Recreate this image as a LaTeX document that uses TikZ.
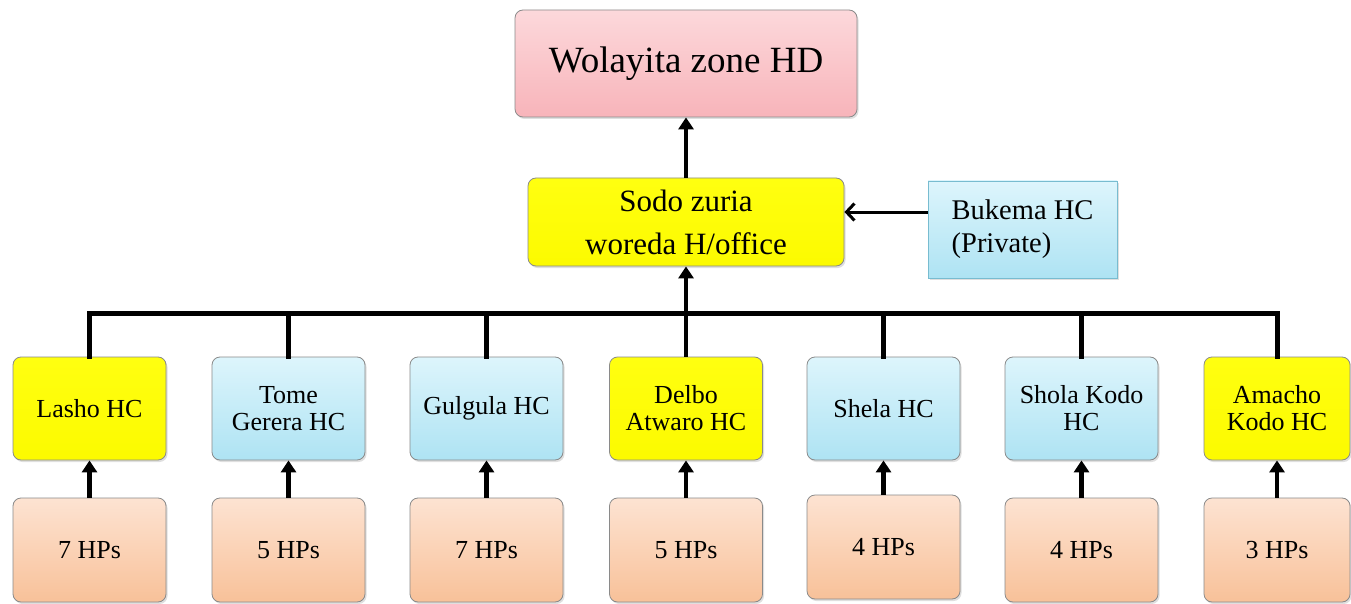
\documentclass[tikz,border=0pt]{standalone}
\usepackage{fontspec}
\setmainfont{Liberation Serif}
\usetikzlibrary{arrows.meta,shadows}
\definecolor{boxline}{HTML}{8A8A8A}
\definecolor{pinktop}{HTML}{FCD8DB}
\definecolor{pinkbot}{HTML}{F8B4BA}
\definecolor{yeltop}{HTML}{FFFF10}
\definecolor{yelbot}{HTML}{FCFA00}
\definecolor{bluetop}{HTML}{DDF5FC}
\definecolor{bluebot}{HTML}{AEE3F3}
\definecolor{blueline}{HTML}{78BCD0}
\definecolor{peachtop}{HTML}{FDE3D2}
\definecolor{peachbot}{HTML}{F8C199}
\begin{document}
\begin{tikzpicture}[x=1pt,y=-1pt,
  box/.style={draw=boxline, line width=0.8pt, rounded corners=8pt, align=center, inner sep=2pt,
    drop shadow={opacity=0.25, shadow xshift=1.5pt, shadow yshift=-2pt}},
  topbox/.style={box, top color=pinktop, bottom color=pinkbot, minimum width=342pt, minimum height=107pt,
    font=\fontsize{37}{40}\selectfont},
  sodobox/.style={box, top color=yeltop, bottom color=yelbot, minimum width=316pt, minimum height=88pt,
    font=\fontsize{31}{43}\selectfont},
  privbox/.style={box, rounded corners=0pt, draw=blueline, top color=bluetop, bottom color=bluebot,
    minimum width=189pt, minimum height=97pt, align=left, font=\fontsize{28.5}{33}\selectfont},
  hcyel/.style={box, top color=yeltop, bottom color=yelbot, minimum width=153pt, minimum height=103pt,
    font=\fontsize{26}{27}\selectfont},
  hcblue/.style={box, top color=bluetop, bottom color=bluebot, minimum width=153pt, minimum height=103pt,
    font=\fontsize{26}{27}\selectfont},
  hpbox/.style={box, top color=peachtop, bottom color=peachbot, minimum width=153pt, minimum height=104pt,
    font=\fontsize{26}{27}\selectfont},
  busline/.style={line width=5pt, line join=miter, line cap=rect},
  uparrow/.style={line width=4.5pt, -{Triangle[width=15pt,length=12pt]}},
  thinarrow/.style={line width=3pt, -{Straight Barb[width=17pt,length=8pt,line width=3pt]}}
]
\fill[white] (0,0) rectangle (1351,604);
\useasboundingbox (0,0) rectangle (1351,604);

\node[topbox] (top) at (686,63.5) {Wolayita zone HD};
\node[sodobox] (sodo) at (686,222) {Sodo zuria\\woreda H/office};
\node[privbox] (buk) at (1022.5,229.5) {Bukema HC\\(Private)};

\node[hcyel]  (hc1) at (89.5,408.5)  {Lasho HC};
\node[hcblue] (hc2) at (288.5,408.5) {Tome\\Gerera HC};
\node[hcblue] (hc3) at (486.5,408.5) {Gulgula HC};
\node[hcyel]  (hc4) at (686,408.5) {Delbo\\Atwaro HC};
\node[hcblue] (hc5) at (883.5,408.5) {Shela HC};
\node[hcblue] (hc6) at (1081.5,408.5) {Shola Kodo\\HC};
\node[hcyel, minimum width=146pt] (hc7) at (1277,408.5) {Amacho\\Kodo HC};

\node[hpbox] (hp1) at (89.5,550)  {7 HPs};
\node[hpbox] (hp2) at (288.5,550) {5 HPs};
\node[hpbox] (hp3) at (486.5,550) {7 HPs};
\node[hpbox] (hp4) at (686,550) {5 HPs};
\node[hpbox] (hp5) at (883.5,547) {4 HPs};
\node[hpbox] (hp6) at (1081.5,550) {4 HPs};
\node[hpbox, minimum width=146pt] (hp7) at (1277,550) {3 HPs};

\coordinate (bus) at (0,313);
\coordinate (bukin) at ([yshift=17.5pt]buk.west);
\draw[busline] (hc1.north) -- (hc1.north |- bus) -- (hc7.north |- bus) -- (hc7.north);
\foreach \i in {2,3,5,6} { \draw[busline] (hc\i.north) -- (hc\i.north |- bus); }
\draw[uparrow] (hc4.north) -- (sodo.south);
\draw[uparrow] (sodo.north) -- (top.south);
\draw[thinarrow] (bukin) -- (sodo.east |- bukin);
\foreach \i in {1,...,7} { \draw[uparrow] (hp\i.north) -- (hc\i.south); }
\end{tikzpicture}
\end{document}
